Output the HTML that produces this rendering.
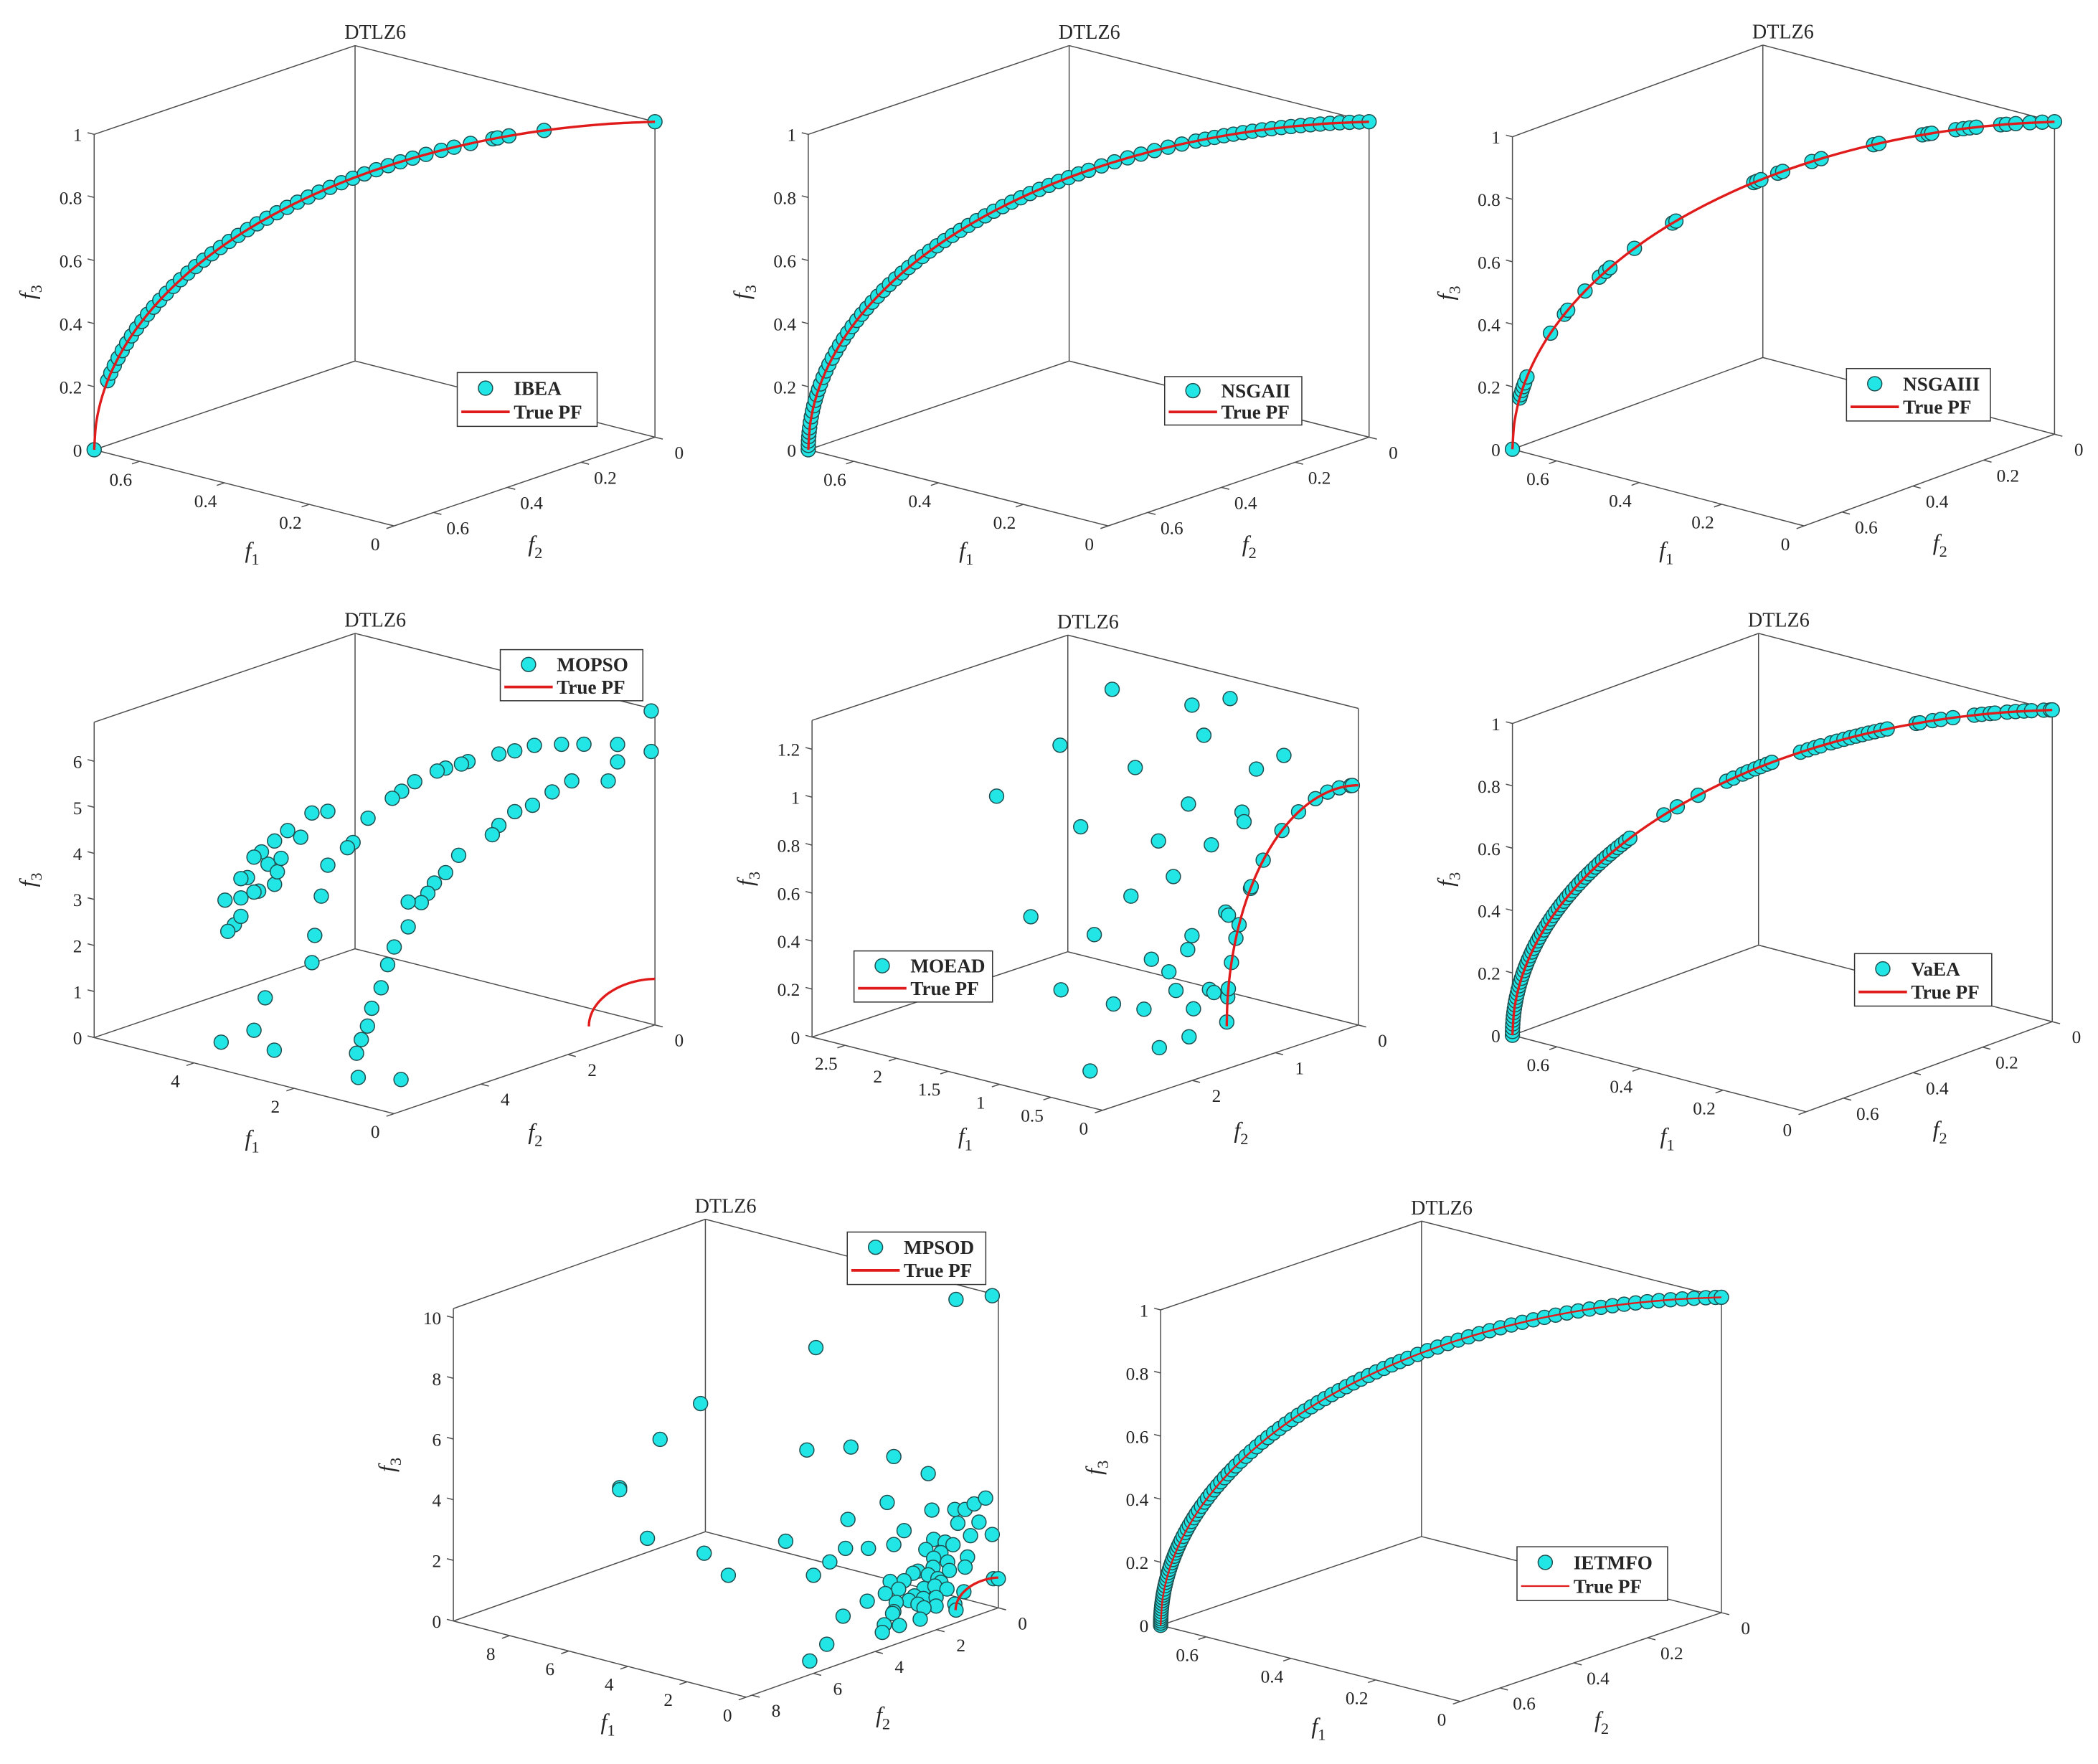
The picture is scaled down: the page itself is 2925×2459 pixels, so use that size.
<!DOCTYPE html>
<html><head><meta charset="utf-8"><title>DTLZ6 Pareto fronts</title>
<style>
html,body{margin:0;padding:0;background:#fff;}
svg{display:block;}
text{font-family:"Liberation Serif","DejaVu Serif",serif;fill:#262626;}
</style></head>
<body>
<svg id="fig" xmlns="http://www.w3.org/2000/svg" width="2925" height="2459" viewBox="0 0 1560 1311.5">
<rect x="0" y="0" width="1560" height="1311.5" fill="#ffffff"/>
</svg>
<script>
// ---------- data ----------
// True PF samples (f1 = f2, f3) at 5 degree steps
const pfF12 = [0.7071,0.7044,0.6964,0.6830,0.6645,0.6409,0.6124,0.5792,0.5417,0.5,0.4545,0.4056,0.3536,0.2988,0.2418,0.1830,0.1228,0.0617,0];
const pfF3  = [0,0.0872,0.1736,0.2588,0.3420,0.4226,0.5,0.5736,0.6428,0.7071,0.7660,0.8192,0.8660,0.9063,0.9397,0.9659,0.9848,0.9962,1];
// Solutions on the front, given by angle (deg) along the front
const ibeaTheta = [0,12.6,14,15.4,16.8,18.2,19.6,21,22.4,23.8,25.2,26.6,28,29.4,30.8,32.2,33.6,35,36.4,37.8,39.2,40.6,42,43.4,44.8,46.2,47.6,49,50.4,51.8,53.2,54.6,56,57.4,58.8,60.2,61.6,63,64.4,65.9,67.6,69,70.8,73.2,73.7,74.9,78.6,90];
const nsga2Theta = [0,0.8,1.6,2.4,3.2,4,5,6,7,8,9,10,11,12,13.2,14.4,15.6,16.8,18,19.2,20.4,21.6,22.8,24,25.2,26.4,27.6,28.8,30,31.2,32.4,33.6,34.8,36,37.2,38.4,39.6,40.8,42,43.2,44.4,45.6,46.8,48,49.2,50.4,51.6,52.8,54,55.2,56.4,57.6,58.8,60,61.5,63,64.5,66,67.5,69,70.5,72,73,74,75,76,77,78,79,80,81,82,83,84,85,86,87,88,89,90];
const nsga3Theta = [0,9.4,10,10.8,11.5,12.2,13.3,21.6,25.3,26.1,30,32.9,34.1,34.9,39.2,45.2,45.7,56.3,56.7,57.2,59.3,59.9,63.4,64.5,70.5,71.1,75.9,76.5,76.9,79.5,80.3,81,81.7,84.3,84.9,85.9,87.4,88.7,90];
const vaeaTheta = [0,0.7,1.4,2.1,2.8,3.5,4.2,4.9,5.6,6.3,7,7.7,8.4,9.1,9.8,10.5,11.2,11.9,12.6,13.3,14,14.7,15.4,16.1,16.8,17.5,18.2,18.9,19.6,20.3,21,21.7,22.4,23.1,23.8,24.5,25.2,25.9,26.6,27.3,28,28.7,29.4,30.1,30.8,31.5,32.2,32.9,33.6,34.3,35,35.7,36.4,37.1,37.8,38.5,44,46,49,52.9,53.8,55,55.7,56.6,57.3,58.1,58.7,62.2,63.1,63.9,64.6,65.8,66.5,67.3,68,68.7,69.4,70.1,70.8,71.5,72.2,75.4,75.8,77.2,78.1,79.4,81.7,82.5,83.4,83.9,85.2,86.1,87,87.8,89.1,89.8,90];
const ietmfoTheta = [0,0.4,0.8,1.2,1.6,2,2.5,3,3.5,4,4.5,5,5.5,6,6.6,7.2,7.8,8.4,9,9.6,10.2,10.8,11.4,12,12.6,13.2,13.8,14.4,15,15.6,16.3,17,17.7,18.4,19.1,19.8,20.5,21.2,22,22.8,23.6,24.4,25.2,26,26.8,27.6,28.4,29.2,30,31,32,33,34,35,36,37,38,39,40,41,42,43,44,45,46,47,48,49,50,51,52,53,54,55,56,57.2,58.4,59.6,60.8,62,63.2,64.4,65.6,66.8,68,69.2,70.4,71.6,72.8,74,75.2,76.4,77.6,78.8,80,81.2,82.4,83.6,84.8,86,87.2,88.4,89.4,90];
const moeadPfTheta = [1,7,9,15.4,21.5,25,35,35.5,43.7,54.5,63,71,76.5,81.7,86.7,87.4];

// MOPSO scattered solutions
const mopsoF1 = [0.04,0.04,0.4,0.76,1.0,1.29,1.5,1.67,2.0,2.07,2.24,2.33,2.57,2.71,2.81,3.07,3.23,3.29,0.4,0.5,0.89,1.1,1.31,1.5,1.67,1.74,2.1,2.24,2.36,2.43,2.5,2.64,2.79,2.86,2.93,3.03,2.64,1.55,1.63,1.69,1.63,1.07,3.5,3.67,3.79,3.93,4.07,4.14,4.21,4.29,4.24,4.36,4.43,4.07,4.5,4.6,4.57,4.43,4.29,4.04,4.43,4.0,3.5,3.57,3.64,3.67,4.17,4.29,4.39,3.51];
const mopsoF2 = [0.04,0.04,0.4,0.76,1.0,1.29,1.5,1.67,2.0,2.07,2.24,2.33,2.57,2.71,2.81,3.07,3.23,3.29,0.4,0.5,0.89,1.1,1.31,1.5,1.67,1.74,2.1,2.24,2.36,2.43,2.5,2.64,2.79,2.86,2.93,3.03,2.64,4.83,4.88,4.92,4.95,4.61,3.5,3.67,3.79,3.93,4.07,4.14,4.21,4.29,4.24,4.36,4.43,4.07,4.5,4.6,4.57,4.43,4.29,4.04,4.43,4.0,3.5,3.57,3.64,3.67,4.17,4.29,4.93,4.72];
const mopsoF3 = [6.82,5.94,6.11,6.13,6.14,6.13,6.02,5.96,5.81,5.76,5.68,5.62,5.40,5.2,5.05,4.63,4.11,4.0,5.73,5.32,5.34,5.11,4.83,4.7,4.41,4.21,3.78,3.41,3.19,2.97,2.77,2.25,1.82,1.44,0.94,0.5,2.79,1.1,0.8,0.5,0,0,4.8,4.77,4.25,4.4,4.18,3.68,3.95,3.84,3.1,3.4,2.96,3.24,2.38,2.92,2.24,2.56,3.08,3.51,3.38,3.8,3.63,2.96,2.11,1.52,0.78,0.08,0,0];

// MOEAD scattered solutions
const moeadF1 = [1.323,0.894,0.689,0.83,1.603,1.199,0.40,0.548,1.944,0.913,0.625,0.614,1.492,1.074,0.79,0.994,1.222,1.76,0.713,0.698,1.419,0.894,0.917,1.112,1.018,1.598,0.98,0.80,0.776,1.316,1.152,0.886,0.74,0.724,0.721];
const moeadF2 = [1.323,0.894,0.689,0.83,1.603,1.199,0.40,0.548,1.944,0.913,0.625,0.614,1.492,1.074,0.79,0.994,1.222,1.76,0.713,0.698,1.419,0.894,0.917,1.112,1.018,1.598,0.98,0.80,0.776,1.316,1.152,0.886,1.12,1.498,2.335];
const moeadF3 = [1.409,1.34,1.366,1.214,1.178,1.082,1.127,1.071,0.968,0.928,0.892,0.852,0.837,0.775,0.757,0.626,0.546,0.464,0.476,0.463,0.387,0.379,0.321,0.282,0.229,0.158,0.151,0.154,0.141,0.097,0.074,0.074,0,0,0];

// MPSOD scattered solutions
const mpsodF1 = [0.70,0.10,3.02,4.93,5.60,6.27,6.27,3.17,2.44,1.73,1.16,1.84,1.10,0.72,0.55,0.40,0.21,2.49,0.67,0.32,1.56,0.10,0.46,1.07,0.88,0.75,5.81,3.52,2.53,2.15,1.73,4.87,1.20,0.95,0.51,1.07,2.79,0.84,0.55,1.08,0.81,1.33,1.41,4.47,3.06,1.16,1.00,1.56,1.79,0.95,0.08,0.00,1.65,1.23,1.05,0.85,0.57,1.87,1.39,1.24,1.03,2.17,1.48,1.69,1.33,1.03,0.72,1.73,1.23,0.70,1.75,0.90,2.57,0.96,1.29,0.91,1.34,0.75];
const mpsodF2 = [0.70,0.10,3.02,4.93,5.60,6.27,6.27,3.17,2.44,1.73,1.16,1.84,1.10,0.72,0.55,0.40,0.21,2.49,0.67,0.32,1.56,0.10,0.46,1.07,0.88,0.75,5.81,3.52,2.53,2.15,1.73,4.87,1.20,0.95,0.51,1.07,2.79,0.84,0.55,1.08,0.81,1.33,1.41,4.47,3.06,1.16,1.00,1.56,1.79,0.95,0.08,0.00,1.65,1.23,1.05,0.85,0.57,1.87,1.39,1.24,1.03,2.17,1.48,1.69,1.33,1.03,0.72,1.73,1.23,0.70,1.75,1.67,2.57,2.29,2.46,2.89,4.28,5.40];
const mpsodF3 = [10.24,10.30,8.90,7.26,6.15,4.63,4.56,5.54,5.56,5.17,4.55,3.67,3.34,3.32,3.30,3.47,3.64,3.18,2.86,2.86,2.71,2.43,2.43,2.37,2.26,2.16,2.91,2.57,2.23,2.19,2.27,2.32,2.05,1.92,1.73,1.75,1.81,1.60,1.40,1.45,1.32,1.35,1.29,1.55,1.40,1.21,1.07,1.06,1.06,0.94,0.97,0.96,0.79,0.77,0.83,0.71,0.59,0.67,0.54,0.44,0.45,0.45,0.40,0.36,0.26,0.17,0.20,0.06,0.13,0,0,0,0,0,0,0,0,0];

// tick values / labels
const pfTicks12 = [0,0.2,0.4,0.6];
const pfTickLabels12 = ["0","0.2","0.4","0.6"];
const pfTicks3 = [0,0.2,0.4,0.6,0.8,1];
const pfTickLabels3 = ["0","0.2","0.4","0.6","0.8","1"];
const mopsoTicks1 = [0,2,4];
const mopsoTicks2 = [0,2,4];
const mopsoTicks3 = [0,1,2,3,4,5,6];
const moeadTicks1 = [0,0.5,1,1.5,2,2.5];
const moeadTicks2 = [0,1,2];
const moeadTicks3 = [0,0.2,0.4,0.6,0.8,1,1.2];
const mpsodTicks1 = [0,2,4,6,8];
const mpsodTicks2 = [0,2,4,6,8];
const mpsodTicks3 = [0,2,4,6,8,10];

// ---------- drawing ----------
const NS = "http://www.w3.org/2000/svg";
const svg = document.getElementById("fig");
function mk(tag, attrs, parent){
  const e = document.createElementNS(NS, tag);
  for (const k in attrs) e.setAttribute(k, attrs[k]);
  (parent || svg).appendChild(e);
  return e;
}
function makePanel(cfg){
  const p = Object.assign({}, cfg);
  p.U = [(cfg.L[0]-cfg.F[0])/cfg.a, (cfg.L[1]-cfg.F[1])/cfg.a];
  p.V = [(cfg.F[0]-cfg.C[0])/cfg.b, (cfg.F[1]-cfg.C[1])/cfg.b];
  p.W = cfg.H / cfg.c;
  p.proj = function(f1,f2,f3){
    return [p.C[0]+f1*p.U[0]+f2*p.V[0], p.C[1]+f1*p.U[1]+f2*p.V[1]-f3*p.W];
  };
  return p;
}
function fmtTick(v){ return String(v); }

function drawFrame(p){
  const g = mk("g", {});
  
  
  const a=p.a,b=p.b,c=p.c;
  const segs = [
    [[a,0,0],[a,0,c],'back-vertical-edge'],
    [[a,0,0],[a,b,0],'back-left-floor-edge'],
    [[a,0,0],[0,0,0],'back-right-floor-edge'],
    [[a,0,c],[a,b,c],'top-left-edge'],
    [[a,0,c],[0,0,c],'top-right-edge'],
    [[a,b,0],[a,b,c],'f3-axis-line'],
    [[0,0,0],[0,0,c],'right-vertical-edge'],
    [[a,b,0],[0,b,0],'f1-axis-line'],
    [[0,b,0],[0,0,0],'f2-axis-line']
  ];
  segs.forEach(s=>{
    const A=p.proj(...s[0]), B=p.proj(...s[1]);
    const ln = mk("line",{x1:A[0],y1:A[1],x2:B[0],y2:B[1],stroke:"#4d4d4d","stroke-width":0.8},g);
    
    
  });
  const nU = Math.hypot(p.U[0],p.U[1]), nV = Math.hypot(p.V[0],p.V[1]);
  const uu=[p.U[0]/nU,p.U[1]/nU], vv=[p.V[0]/nV,p.V[1]/nV];
  // f3 ticks
  p.t3.forEach((t,i)=>{
    const P=p.proj(a,b,t);
    const tk = mk("line",{x1:P[0],y1:P[1],x2:P[0]+uu[0]*5,y2:P[1]+uu[1]*5,stroke:"#4d4d4d","stroke-width":0.8},g);
    
    
    const tx = mk("text",{x:P[0]-9,y:P[1]+5,"font-size":13.5,"text-anchor":"end"},g);
    tx.textContent = p.l3 ? p.l3[i] : fmtTick(t);
    
    
  });
  p.t1.forEach((t,i)=>{
    const P=p.proj(t,b,0);
    const tk = mk("line",{x1:P[0],y1:P[1],x2:P[0]+vv[0]*6,y2:P[1]+vv[1]*6,stroke:"#4d4d4d","stroke-width":0.8},g);
    
    
    const tx = mk("text",{x:P[0]-14,y:P[1]+18,"font-size":13.5,"text-anchor":"middle"},g);
    tx.textContent = p.l1 ? p.l1[i] : fmtTick(t);
    
    
  });
  p.t2.forEach((t,i)=>{
    const P=p.proj(0,t,0);
    const tk = mk("line",{x1:P[0],y1:P[1],x2:P[0]-uu[0]*6,y2:P[1]-uu[1]*6,stroke:"#4d4d4d","stroke-width":0.8},g);
    
    
    const tx = mk("text",{x:P[0]+18,y:P[1]+16,"font-size":13.5,"text-anchor":"middle"},g);
    tx.textContent = p.l2 ? p.l2[i] : fmtTick(t);
    
    
  });
  // axis titles
  const m1a=p.proj(a,b,0), m1b=p.proj(0,b,0);
  const x1t = mk("text",{x:(m1a[0]+m1b[0])/2+6,y:(m1a[1]+m1b[1])/2+52,"font-size":17,"font-style":"italic","text-anchor":"middle"},g);
  x1t.innerHTML = 'f<tspan font-size="12" font-style="normal" dy="5">1</tspan>';
  
  
  const m2a=p.proj(0,b,0), m2b=p.proj(0,0,0);
  const x2t = mk("text",{x:(m2a[0]+m2b[0])/2+8,y:(m2a[1]+m2b[1])/2+52,"font-size":17,"font-style":"italic","text-anchor":"middle"},g);
  x2t.innerHTML = 'f<tspan font-size="12" font-style="normal" dy="5">2</tspan>';
  
  
  const m3a=p.proj(a,b,0), m3b=p.proj(a,b,c);
  const cx = m3a[0]-44, cy=(m3a[1]+m3b[1])/2;
  const x3t = mk("text",{x:cx,y:cy,"font-size":17,"font-style":"italic","text-anchor":"middle",transform:"rotate(-90 "+cx+" "+cy+")"},g);
  x3t.innerHTML = 'f<tspan font-size="12" font-style="normal" dy="5">3</tspan>';
  
  
  // title
  const bt = p.proj(a,0,c);
  const tt = mk("text",{x:bt[0]+15,y:bt[1]-5,"font-size":15,"text-anchor":"middle"},g);
  tt.textContent = "DTLZ6";
  
  
}

function drawPF(p, lw){
  const pts = pfF12.map((v,i)=>p.proj(v,v,pfF3[i]));
  let d = "M"+pts[0][0].toFixed(2)+","+pts[0][1].toFixed(2);
  for (let i=0;i<pts.length-1;i++){
    const p0=pts[Math.max(0,i-1)], p1=pts[i], p2=pts[i+1], p3=pts[Math.min(pts.length-1,i+2)];
    const c1=[p1[0]+(p2[0]-p0[0])/6, p1[1]+(p2[1]-p0[1])/6];
    const c2=[p2[0]-(p3[0]-p1[0])/6, p2[1]-(p3[1]-p1[1])/6];
    d += " C"+c1[0].toFixed(2)+","+c1[1].toFixed(2)+" "+c2[0].toFixed(2)+","+c2[1].toFixed(2)+" "+p2[0].toFixed(2)+","+p2[1].toFixed(2);
  }
  const path = mk("path",{d:d,fill:"none",stroke:"#e01b1b","stroke-width":lw||1.8});
  
  
}

function drawDot(g, P){
  const c = mk("circle",{cx:P[0].toFixed(2),cy:P[1].toFixed(2),r:5.3,fill:"#22e6e6",stroke:"#1f4f4f","stroke-width":0.8},g);
  
  
}
function drawThetaDots(p, thetas){
  const g = mk("g",{});
  
  
  thetas.forEach(th=>{
    const r = th*Math.PI/180;
    const f12 = Math.cos(r)/Math.SQRT2, f3 = Math.sin(r);
    drawDot(g, p.proj(f12,f12,f3));
  });
}
function drawScatter(p, F1, F2, F3){
  const g = mk("g",{});
  
  
  F1.forEach((v,i)=> drawDot(g, p.proj(v, F2[i], F3[i])));
}
function drawLegend(id, x, y, w, h, name, lw){
  const g = mk("g",{});
  
  
  const r = mk("rect",{x:x,y:y,width:w,height:h,fill:"#fff",stroke:"#333","stroke-width":0.8},g);
  
  
  const m = mk("circle",{cx:x+21,cy:y+h*0.29,r:5.3,fill:"#22e6e6",stroke:"#1f4f4f","stroke-width":0.8},g);
  
  
  const t1 = mk("text",{x:x+42,y:y+h*0.29+5,"font-size":14.5,"font-weight":"bold"},g);
  t1.textContent = name;
  
  
  const ln = mk("line",{x1:x+3,y1:y+h*0.73,x2:x+39,y2:y+h*0.73,stroke:"#e01b1b","stroke-width":lw||2},g);
  
  
  const t2 = mk("text",{x:x+42,y:y+h*0.73+5,"font-size":14.5,"font-weight":"bold"},g);
  t2.textContent = "True PF";
  
  
}

const PFTICKS = {t1:pfTicks12,l1:pfTickLabels12,t2:pfTicks12,l2:pfTickLabels12,t3:pfTicks3,l3:pfTickLabels3,a:0.7071,b:0.7071,c:1};

// Panel 1 IBEA
const p1 = makePanel(Object.assign({id:"ibea",C:[487,325],F:[293,391],L:[70,334.4],H:234.5},PFTICKS));
drawFrame(p1); drawThetaDots(p1, ibeaTheta); drawPF(p1); drawLegend("ibea",340,277,104,40,"IBEA");
// Panel 2 NSGAII
const p2 = makePanel(Object.assign({id:"nsgaii",C:[1018,325],F:[824,391],L:[601,334.4],H:234.5},PFTICKS));
drawFrame(p2); drawThetaDots(p2, nsga2Theta); drawPF(p2); drawLegend("nsgaii",866,280,102,36,"NSGAII");
// Panel 3 NSGAIII
const p3 = makePanel(Object.assign({id:"nsgaiii",C:[1527.7,322.8],F:[1341.5,391],L:[1124.6,334],H:232.3},PFTICKS));
drawFrame(p3); drawThetaDots(p3, nsga3Theta); drawPF(p3); drawLegend("nsgaiii",1373,274,107,39,"NSGAIII");
// Panel 4 MOPSO
const p4 = makePanel({id:"mopso",C:[487,762],F:[293,828],L:[70,771.4],H:234.5,a:6,b:6,c:6.85,t1:mopsoTicks1,t2:mopsoTicks2,t3:mopsoTicks3});
drawFrame(p4); drawScatter(p4, mopsoF1, mopsoF2, mopsoF3); drawPF(p4); drawLegend("mopso",372,483,106,38,"MOPSO");
// Panel 5 MOEAD
const p5 = makePanel({id:"moead",C:[1010,762.1],F:[819.8,825.5],L:[603.8,771],H:235.4,a:2.82,b:3.08,c:1.32,t1:moeadTicks1,t2:moeadTicks2,t3:moeadTicks3});
drawFrame(p5); drawScatter(p5, moeadF1, moeadF2, moeadF3); drawThetaDots(p5, moeadPfTheta); drawPF(p5); drawLegend("moead",635,707,103,38,"MOEAD");
// Panel 6 VaEA
const p6 = makePanel(Object.assign({id:"vaea",C:[1526,759.6],F:[1343,826.6],L:[1124.6,769.7],H:231.8},PFTICKS));
drawFrame(p6); drawThetaDots(p6, vaeaTheta); drawPF(p6); drawLegend("vaea",1379,709,102,39,"VaEA");
// Panel 7 MPSOD
const p7 = makePanel({id:"mpsod",C:[742.3,1195.4],F:[554.9,1261.8],L:[337.1,1205.2],H:232.3,a:9.9,b:8.18,c:10.3,t1:mpsodTicks1,t2:mpsodTicks2,t3:mpsodTicks3});
drawFrame(p7); drawScatter(p7, mpsodF1, mpsodF2, mpsodF3); drawPF(p7); drawLegend("mpsod",630,916,103,39,"MPSOD");
// Panel 8 IETMFO
const p8 = makePanel(Object.assign({id:"ietmfo",C:[1280,1199],F:[1086,1265],L:[863,1208.4],H:234.5},PFTICKS));
drawFrame(p8); drawThetaDots(p8, ietmfoTheta); drawPF(p8, 1.3); drawLegend("ietmfo",1128,1150,112,40,"IETMFO",1.2);
</script>
</body></html>
